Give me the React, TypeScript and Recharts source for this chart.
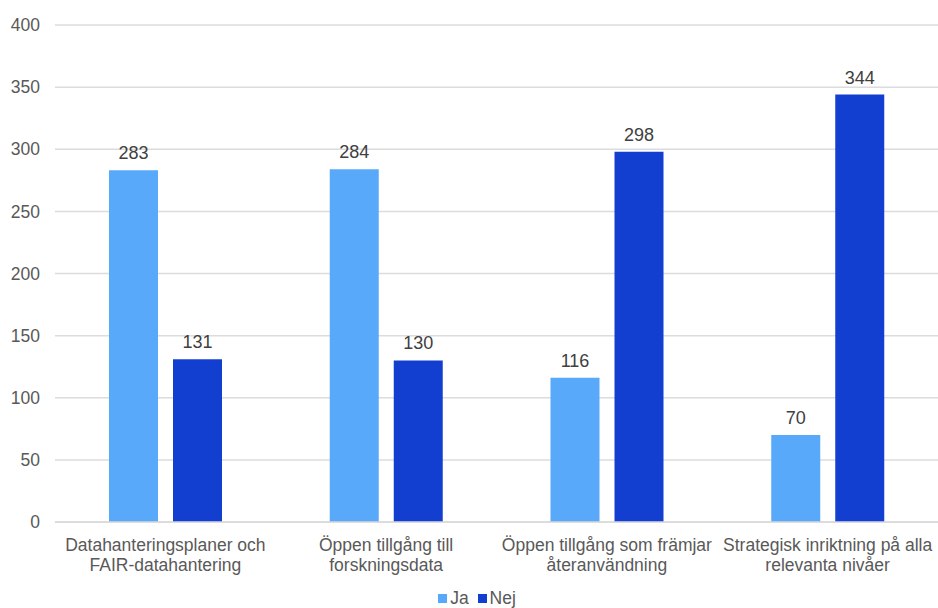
import React from "react";
import { BarChart, Bar, XAxis, YAxis, CartesianGrid, Legend, LabelList } from "recharts";

// Category labels, with explicit line breaks for the two-line axis ticks
const categories = [
  "Datahanteringsplaner och\nFAIR-datahantering",
  "Öppen tillgång till\nforskningsdata",
  "Öppen tillgång som främjar\nåteranvändning",
  "Strategisk inriktning på alla\nrelevanta nivåer",
];
const jaValues = [283, 284, 116, 70];
const nejValues = [131, 130, 298, 344];
const yTicks = [0, 50, 100, 150, 200, 250, 300, 350, 400];

const JA_COLOR = "#59A9FA";
const NEJ_COLOR = "#133FD0";
const FONT = "'Liberation Sans', Arial, sans-serif";
const AXIS_FONT_SIZE = 17.5;

const data = categories.map((name, i) => ({ name, Ja: jaValues[i], Nej: nejValues[i] }));

const CategoryTick = (props: any) => {
  const { x, y, payload } = props;
  const lines = String(payload.value).split("\n");
  return (
    <g transform={`translate(${x},${y})`}>
      <text textAnchor="middle" fill="#595959" fontSize={AXIS_FONT_SIZE} fontFamily={FONT}>
        {lines.map((line, i) => (
          <tspan key={i} x={0} dy={i === 0 ? 21 : 20}>
            {line}
          </tspan>
        ))}
      </text>
    </g>
  );
};

const LegendContent = () => (
  <div
    style={{
      display: "flex",
      justifyContent: "center",
      gap: 9,
      fontFamily: FONT,
      fontSize: AXIS_FONT_SIZE,
      color: "#595959",
      height: 22,
      lineHeight: "22px",
      paddingLeft: 16,
      position: "relative",
      top: 1,
    }}
  >
    {[
      ["Ja", JA_COLOR],
      ["Nej", NEJ_COLOR],
    ].map(([label, color]) => (
      <span key={label} style={{ display: "flex", alignItems: "center" }}>
        <span style={{ width: 9, height: 9, background: color, display: "inline-block", marginRight: 3 }} />
        {label}
      </span>
    ))}
  </div>
);

export default function App() {
  return (
    <div style={{ position: "absolute", left: 0, top: 0, width: 938, height: 608, background: "#fff", overflow: "hidden" }}>
      <BarChart
        width={938}
        height={608}
        data={data}
        margin={{ top: 25, right: 0, left: 0, bottom: 0 }}
        barSize={49}
        barGap={15}
      >
        <CartesianGrid vertical={false} stroke="#DCDCDC" strokeWidth={1.5} />
        <XAxis
          dataKey="name"
          height={64}
          tick={<CategoryTick />}
          tickLine={false}
          axisLine={{ stroke: "#D9D9D9", strokeWidth: 1.5 }}
          interval={0}
        />
        <YAxis
          width={55}
          domain={[0, 400]}
          ticks={yTicks}
          tickLine={false}
          axisLine={false}
          tickSize={0}
          tickMargin={15}
          tick={{ fill: "#595959", fontSize: AXIS_FONT_SIZE, fontFamily: FONT }}
        />
        <Legend verticalAlign="bottom" content={<LegendContent />} />
        <Bar dataKey="Ja" fill={JA_COLOR} isAnimationActive={false}>
          <LabelList dataKey="Ja" position="top" offset={11} fill="#404040" fontSize={18} fontFamily={FONT} />
        </Bar>
        <Bar dataKey="Nej" fill={NEJ_COLOR} isAnimationActive={false}>
          <LabelList dataKey="Nej" position="top" offset={11} fill="#404040" fontSize={18} fontFamily={FONT} />
        </Bar>
      </BarChart>
    </div>
  );
}
